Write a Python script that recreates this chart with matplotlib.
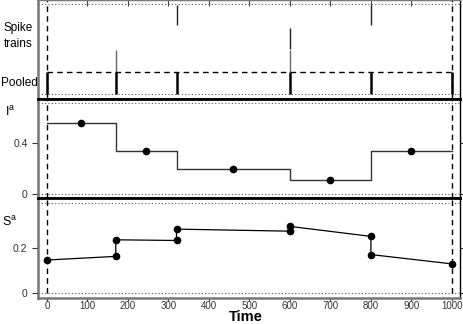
import matplotlib
matplotlib.use("Agg")
import matplotlib.pyplot as plt
import numpy as np

plt.rcParams['font.family'] = ['Liberation Sans', 'DejaVu Sans']

# spike trains (times)
train1 = [320, 800]
train2 = [600]
train3 = [170, 600]
pooled = [0, 170, 320, 600, 800, 1000]

# I^a step function
i_edges = [0, 170, 320, 600, 800, 1000]
i_vals = [0.555, 0.34, 0.2, 0.112, 0.337]
i_mid = [85, 245, 460, 700, 900]

# S^a trajectory
s_times = [0, 170, 170, 320, 320, 600, 600, 800, 800, 1000]
s_vals = [0.147, 0.163, 0.236, 0.233, 0.283, 0.274, 0.295, 0.251, 0.171, 0.130]

W, H = 463, 324
fig = plt.figure(figsize=(W / 100, H / 100), dpi=100)
left, right = 38 / W, 460 / W
def frac(y):
    return 1 - y / H
ax1 = fig.add_axes([left, frac(99), right - left, frac(0) - frac(99)])
ax2 = fig.add_axes([left, frac(198), right - left, frac(99) - frac(198)])
ax3 = fig.add_axes([left, frac(297.5), right - left, frac(198) - frac(297.5)])

gray = '#777777'
xlim = (-22, 1020)
dash = (0, (4, 3))

for ax in (ax1, ax2, ax3):
    ax.set_xlim(*xlim)
    for s in ax.spines.values():
        s.set_color('black')
        s.set_linewidth(1.0)
    ax.spines['left'].set_color(gray)
    ax.spines['left'].set_linewidth(1.8)
    ax.tick_params(colors='#333333', labelsize=7.5, length=4, width=0.8)

# --- top panel: spike trains
ax1.set_ylim(0, 1)
ax1.spines['top'].set_color(gray)
ax1.spines['bottom'].set_linewidth(2.0)
ax1.set_yticks([])
ax1.set_xticks(np.arange(100, 1000, 100))
ax1.tick_params(axis='x', top=True, bottom=False, direction='in',
                labelbottom=False, length=4, color='#444444')
ax1.axhline(0.96, color='#555555', ls=(0, (1, 2)), lw=0.8)
ax1.axhline(0.05, color='#555555', ls=(0, (1, 2)), lw=0.8)
ax1.vlines(train1, 0.75, 0.95, color='#222222', lw=1.0)
ax1.vlines(train2, 0.505, 0.72, color='#222222', lw=1.0)
ax1.vlines(train3, 0.275, 0.49, color='#666666', lw=1.0)
ax1.vlines(pooled, 0.05, 0.27, color='black', lw=1.8)
ax1.hlines(0.27, 0, 1000, color='black', lw=1.0, ls=dash)
ax1.vlines([0, 1000], 0, 1, color='black', lw=1.0, ls=dash)
fig.text(18 / W, frac(36), 'Spike\ntrains', ha='center', va='center',
         fontsize=8.5, linespacing=1.4)
fig.text(1 / W, frac(83), 'Pooled', ha='left', va='center', fontsize=8.5)

# --- middle panel: I^a
ax2.set_ylim(-0.031, 0.745)
ax2.spines['top'].set_linewidth(2.0)
ax2.spines['bottom'].set_linewidth(2.0)
ax2.set_xticks([])
ax2.set_yticks([0, 0.4], ['0', '0.4'])
ax2.tick_params(axis='y', right=True, direction='out')
ax2.axhline(0, color='#555555', ls=(0, (1, 2)), lw=0.8)
ax2.axhline(0.71, color='#555555', ls=(0, (1, 2)), lw=0.8)
ax2.vlines([0, 1000], *ax2.get_ylim(), color='black', lw=1.0, ls=dash)
ax2.plot(i_edges, i_vals + [i_vals[-1]], drawstyle='steps-post',
         color='#333333', lw=1.0)
ax2.plot(i_mid, i_vals, 'o', color='black', ms=4.5)
fig.text(10 / W, frac(112), r'$\mathregular{I^a}$', ha='center', va='center',
         fontsize=9)

# --- bottom panel: S^a
ax3.set_ylim(-0.018, 0.42)
ax3.spines['top'].set_linewidth(2.0)
ax3.spines['bottom'].set_color(gray)
ax3.spines['bottom'].set_linewidth(1.8)
ax3.set_yticks([0, 0.2], ['0', '0.2'])
ax3.tick_params(axis='y', right=True, direction='out')
ax3.set_xticks(np.arange(0, 1001, 100))
ax3.tick_params(axis='x', pad=0, length=2.5, labelsize=7)
ax3.axhline(0, color='#555555', ls=(0, (1, 2)), lw=0.8)
ax3.axhline(0.4, color='#555555', ls=(0, (1, 2)), lw=0.8)
ax3.vlines([0, 1000], 0, 0.42, color='black', lw=1.0, ls=dash)
ax3.plot(s_times, s_vals, '-o', color='black', lw=0.9, ms=4.5)
fig.text(246 / W, frac(324), 'Time', ha='center', va='bottom',
         fontsize=10.5, fontweight='bold')
fig.text(10 / W, frac(222), r'$\mathregular{S^a}$', ha='center', va='center',
         fontsize=9)

fig.savefig('out.png', dpi=100)
